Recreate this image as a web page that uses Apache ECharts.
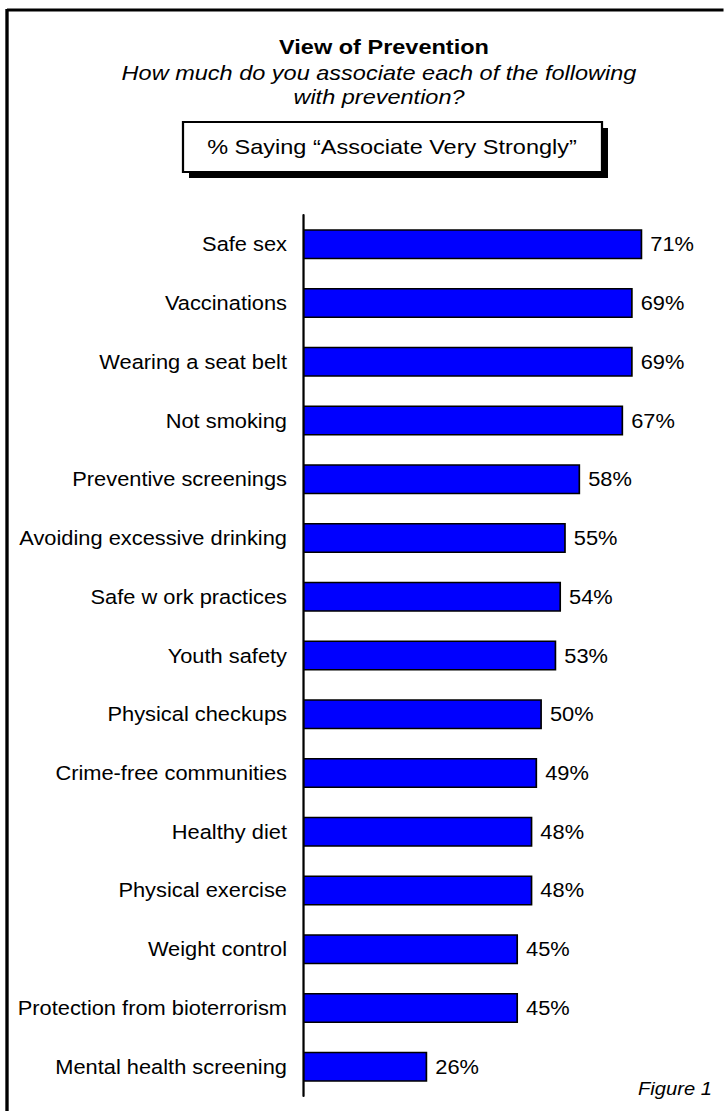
<!DOCTYPE html>
<html>
<head>
<meta charset="utf-8">
<script src="https://cdn.jsdelivr.net/npm/echarts@6/dist/echarts.min.js"></script>
<style>
  html, body { margin: 0; padding: 0; background: #fff; overflow: hidden; }
  #chart { height: 1111px; transform-origin: 0 0; }
</style>
</head>
<body>
<div id="chart"></div>
<script>
// Survey items, top to bottom
const categories = [
  'Safe sex',
  'Vaccinations',
  'Wearing a seat belt',
  'Not smoking',
  'Preventive screenings',
  'Avoiding excessive drinking',
  'Safe w ork practices',
  'Youth safety',
  'Physical checkups',
  'Crime-free communities',
  'Healthy diet',
  'Physical exercise',
  'Weight control',
  'Protection from bioterrorism',
  'Mental health screening'
];
// Percent saying "Associate Very Strongly"
const values = [71, 69, 69, 67, 58, 55, 54, 53, 50, 49, 48, 48, 45, 45, 26];

const titleText = 'View of Prevention';
const subtitleLines = ['How much do you associate each of the following', 'with prevention?'];
const boxText = '% Saying \u201cAssociate Very Strongly\u201d';
const figureText = 'Figure 1';

const FONT = '"Liberation Sans", Arial, sans-serif';

// The slide typography is set wide, so the whole drawing is laid out
// narrower and widened horizontally by SX; px() maps page x to layout x.
const PAGE_W = 724;
const SX = 1.12;
const px = x => x / SX;

const el = document.getElementById('chart');
el.style.width = (PAGE_W / SX) + 'px';
el.style.transform = 'scaleX(' + SX + ')';

const chart = echarts.init(el, null, { renderer: 'svg' });

chart.setOption({
  animation: false,
  backgroundColor: '#ffffff',
  grid: { left: px(303), top: 215, height: 881, right: 0, containLabel: false },
  xAxis: {
    type: 'value',
    min: 0,
    max: 88,
    show: false
  },
  yAxis: {
    type: 'category',
    data: categories,
    inverse: true,
    axisLine: { show: true, lineStyle: { color: '#000', width: 2 } },
    axisTick: { show: false },
    axisLabel: {
      margin: px(16),
      color: '#000',
      fontFamily: FONT,
      fontSize: 19.5
    },
    splitLine: { show: false }
  },
  series: [{
    type: 'bar',
    data: values,
    barWidth: 30,
    itemStyle: { color: '#0000ff', borderColor: '#000', borderWidth: 1.5 },
    label: {
      show: true,
      position: 'right',
      distance: px(8),
      formatter: '{c}%',
      color: '#000',
      fontFamily: FONT,
      fontSize: 19.5
    }
  }],
  graphic: [
    // page frame (top and left rules)
    { type: 'line', shape: { x1: px(7), y1: 10, x2: px(PAGE_W), y2: 10 }, style: { stroke: '#000', lineWidth: 3 } },
    { type: 'line', shape: { x1: px(7), y1: 9, x2: px(7), y2: 1111 }, style: { stroke: '#000', lineWidth: 3 } },
    // heading
    { type: 'text', x: px(384), y: 47, style: { text: titleText, font: 'bold 21px ' + FONT, fill: '#000', align: 'center', verticalAlign: 'middle' } },
    { type: 'text', x: px(379), y: 73, style: { text: subtitleLines[0], font: 'italic 21px ' + FONT, fill: '#000', align: 'center', verticalAlign: 'middle' } },
    { type: 'text', x: px(379), y: 97, style: { text: subtitleLines[1], font: 'italic 21px ' + FONT, fill: '#000', align: 'center', verticalAlign: 'middle' } },
    // boxed caption with drop shadow
    { type: 'rect', shape: { x: px(189), y: 128, width: px(419), height: 50 }, style: { fill: '#000' } },
    { type: 'rect', shape: { x: px(183), y: 122, width: px(419), height: 50 }, style: { fill: '#fff', stroke: '#000', lineWidth: 2 } },
    { type: 'text', x: px(392), y: 147, style: { text: boxText, font: '21px ' + FONT, fill: '#000', align: 'center', verticalAlign: 'middle' } },
    // figure number
    { type: 'text', x: px(712), y: 1089, style: { text: figureText, font: 'italic 18px ' + FONT, fill: '#000', align: 'right', verticalAlign: 'middle' } }
  ]
});
</script>
</body>
</html>
